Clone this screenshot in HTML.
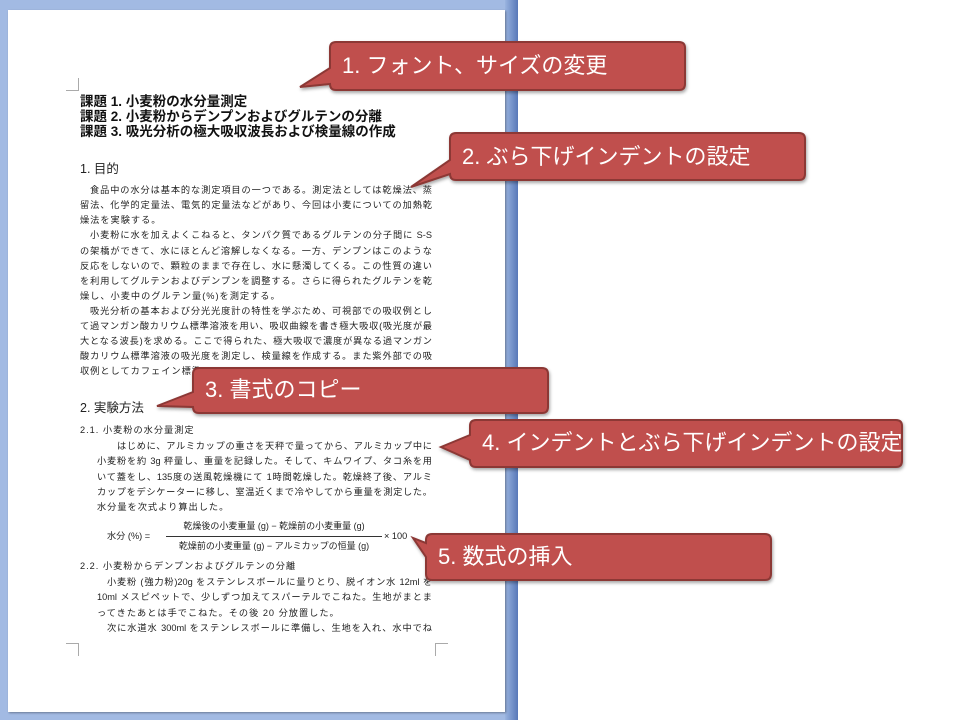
<!DOCTYPE html>
<html><head><meta charset="utf-8">
<style>
html,body{margin:0;padding:0}
body{width:960px;height:720px;position:relative;overflow:hidden;background:#fff;font-family:"Liberation Sans","Noto Sans CJK JP",sans-serif}
.bg{position:absolute;left:0;top:0;width:518px;height:720px;background:#a2bae3}
.strip{position:absolute;left:505px;top:0;width:13px;height:720px;background:linear-gradient(90deg,#9ab4e0,#5878b8)}
.page{position:absolute;left:8px;top:10px;width:497px;height:702px;background:#fff;box-shadow:1px 1px 2px rgba(0,0,0,.35)}
.l{position:absolute;font-size:9.2px;color:#222;white-space:nowrap;line-height:12px;height:12px;overflow:hidden}
.j{text-align:justify;text-align-last:justify;white-space:normal}
.t{position:absolute;font-size:13.5px;font-weight:bold;color:#111;white-space:nowrap;line-height:16px}
.h{position:absolute;font-size:12.5px;color:#222;white-space:nowrap;line-height:14px}
.c{position:absolute;border-color:#aaa;border-style:solid;width:12px;height:12px}
.ct{position:absolute;color:#fff;font-size:22px;white-space:nowrap;line-height:26px}
</style></head><body>
<div class="bg"></div><div class="strip"></div>
<div class="page"></div>
<div class="c" style="left:66px;top:78px;border-width:0 1px 1px 0"></div>
<div class="c" style="left:435px;top:78px;border-width:0 0 1px 1px"></div>
<div class="c" style="left:66px;top:643px;border-width:1px 1px 0 0"></div>
<div class="c" style="left:435px;top:643px;border-width:1px 0 0 1px"></div>

<div class="t" style="left:80px;top:94px">課題 1. 小麦粉の水分量測定</div>
<div class="t" style="left:80px;top:109px">課題 2. 小麦粉からデンプンおよびグルテンの分離</div>
<div class="t" style="left:80px;top:124px">課題 3. 吸光分析の極大吸収波長および検量線の作成</div>
<div class="h" style="left:80px;top:162px">1. 目的</div>

<div class="l j" style="left:90px;width:342px;top:184px">食品中の水分は基本的な測定項目の一つである。測定法としては乾燥法、蒸</div>
<div class="l j" style="left:80px;width:352px;top:199px">留法、化学的定量法、電気的定量法などがあり、今回は小麦についての加熱乾</div>
<div class="l" style="left:80px;top:214px;letter-spacing:1px">燥法を実験する。</div>
<div class="l j" style="left:90px;width:342px;top:229px">小麦粉に水を加えよくこねると、タンパク質であるグルテンの分子間に S-S</div>
<div class="l j" style="left:80px;width:352px;top:245px">の架橋ができて、水にほとんど溶解しなくなる。一方、デンプンはこのような</div>
<div class="l j" style="left:80px;width:352px;top:260px">反応をしないので、顆粒のままで存在し、水に懸濁してくる。この性質の違い</div>
<div class="l j" style="left:80px;width:352px;top:275px">を利用してグルテンおよびデンプンを調整する。さらに得られたグルテンを乾</div>
<div class="l" style="left:80px;top:290px;letter-spacing:1px">燥し、小麦中のグルテン量(%)を測定する。</div>
<div class="l j" style="left:90px;width:342px;top:305px">吸光分析の基本および分光光度計の特性を学ぶため、可視部での吸収例とし</div>
<div class="l j" style="left:80px;width:352px;top:320px">て過マンガン酸カリウム標準溶液を用い、吸収曲線を書き極大吸収(吸光度が最</div>
<div class="l j" style="left:80px;width:352px;top:335px">大となる波長)を求める。ここで得られた、極大吸収で濃度が異なる過マンガン</div>
<div class="l j" style="left:80px;width:352px;top:350px">酸カリウム標準溶液の吸光度を測定し、検量線を作成する。また紫外部での吸</div>
<div class="l" style="left:80px;top:365px;letter-spacing:1px">収例としてカフェイン標準</div>

<div class="h" style="left:80px;top:401px">2. 実験方法</div>
<div class="l" style="left:80px;top:424px;letter-spacing:1px">2.1. 小麦粉の水分量測定</div>
<div class="l j" style="left:117px;width:315px;top:440px">はじめに、アルミカップの重さを天秤で量ってから、アルミカップ中に</div>
<div class="l j" style="left:97px;width:335px;top:455px">小麦粉を約 3g 秤量し、重量を記録した。そして、キムワイプ、タコ糸を用</div>
<div class="l j" style="left:97px;width:335px;top:471px">いて蓋をし、135度の送風乾燥機にて 1時間乾燥した。乾燥終了後、アルミ</div>
<div class="l j" style="left:97px;width:335px;top:486px">カップをデシケーターに移し、室温近くまで冷やしてから重量を測定した。</div>
<div class="l" style="left:97px;top:501px;letter-spacing:1px">水分量を次式より算出した。</div>

<div class="l" style="left:107px;top:530px">水分 (%) =</div>
<div class="l" style="left:166px;width:216px;top:520px;text-align:center;font-size:9px">乾燥後の小麦重量 (g) − 乾燥前の小麦重量 (g)</div>
<div style="position:absolute;left:166px;top:536px;width:216px;height:1px;background:#333"></div>
<div class="l" style="left:166px;width:216px;top:540px;text-align:center;font-size:9px">乾燥前の小麦重量 (g) − アルミカップの恒量 (g)</div>
<div class="l" style="left:384px;top:530px">× 100</div>

<div class="l" style="left:80px;top:560px;letter-spacing:1px">2.2. 小麦粉からデンプンおよびグルテンの分離</div>
<div class="l j" style="left:107px;width:325px;top:576px">小麦粉 (強力粉)20g をステンレスボールに量りとり、脱イオン水 12ml を</div>
<div class="l j" style="left:97px;width:335px;top:591px">10ml メスピペットで、少しずつ加えてスパーテルでこねた。生地がまとま</div>
<div class="l" style="left:97px;top:607px;letter-spacing:1px">ってきたあとは手でこねた。その後 20 分放置した。</div>
<div class="l j" style="left:107px;width:325px;top:622px">次に水道水 300ml をステンレスボールに準備し、生地を入れ、水中でね</div>

<svg width="960" height="720" style="position:absolute;left:0;top:0">
<defs><filter id="s" x="-10%" y="-20%" width="120%" height="150%"><feDropShadow dx="1" dy="2" stdDeviation="1.5" flood-color="#000" flood-opacity="0.35"/></filter></defs>
<g fill="#c0504d" stroke="#8c3836" stroke-width="2" filter="url(#s)">
<path d="M336,42 H679 Q685,42 685,48 V84 Q685,90 679,90 H336 Q330,90 330,84 L300,87 L330,68 V48 Q330,42 336,42 Z"/>
<path d="M456,133 H799 Q805,133 805,139 V174 Q805,180 799,180 H456 Q450,180 450,174 L411,187 L450,160 V139 Q450,133 456,133 Z"/>
<path d="M199,368 H542 Q548,368 548,374 V407 Q548,413 542,413 H199 Q193,413 193,407 L157,406 L193,392 V374 Q193,368 199,368 Z"/>
<path d="M476,420 H896 Q902,420 902,426 V461 Q902,467 896,467 H476 Q470,467 470,461 V460 L441,447 L470,435 V426 Q470,420 476,420 Z"/>
<path d="M432,534 H765 Q771,534 771,540 V574 Q771,580 765,580 H432 Q426,580 426,574 V557 L413,538 L426,543 V540 Q426,534 432,534 Z"/>
</g>
</svg>
<div class="ct" style="left:342px;top:53px">1. フォント、サイズの変更</div>
<div class="ct" style="left:462px;top:144px">2. ぶら下げインデントの設定</div>
<div class="ct" style="left:205px;top:377px">3. 書式のコピー</div>
<div class="ct" style="left:482px;top:430px">4. インデントとぶら下げインデントの設定</div>
<div class="ct" style="left:438px;top:544px">5. 数式の挿入</div>
</body></html>
